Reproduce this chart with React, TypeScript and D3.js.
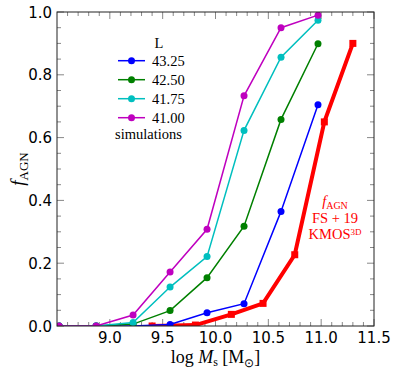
import * as d3 from "d3";
import { useRef, useEffect } from "react";

// simulated AGN fractions per luminosity threshold
const simMass = [8.52, 8.87, 9.22, 9.57, 9.92, 10.27, 10.62, 10.97];
const simLum = ["43.25", "42.50", "41.75", "41.00"];
const simColors = ["#0000ff", "#008000", "#00bfbf", "#bf00bf"];
const simFrac = [
  [0, 0, 0, 0.005, 0.042, 0.071, 0.365, 0.705],
  [0, 0, 0.006, 0.049, 0.154, 0.318, 0.658, 0.899],
  [0, 0, 0.011, 0.124, 0.221, 0.623, 0.856, 0.974],
  [0, 0, 0.035, 0.172, 0.308, 0.733, 0.95, 0.99],
];

// observed (FS+19 KMOS3D)
const obsMass = [9.4, 9.81, 10.15, 10.45, 10.75, 11.03, 11.3];
const obsFrac = [0.0, 0.003, 0.037, 0.072, 0.227, 0.65, 0.9];

const xTicks = [9.0, 9.5, 10.0, 10.5, 11.0, 11.5];
const yTicks = [0.0, 0.2, 0.4, 0.6, 0.8, 1.0];

const App = () => {
  const container = useRef(null);

  useEffect(() => {
    createChart();
  });

  const createChart = () => {
    let node = container.current;
    let dims = { width: 399, height: 374 };
    let m = { l: 57, r: 25, t: 12, b: 48 };
    let w = dims.width - m.l - m.r;
    let h = dims.height - m.t - m.b;

    let svg = d3.select(node).selectAll("svg").data([0]).join("svg")
      .attr("width", dims.width)
      .attr("height", dims.height)
      .style("position", "absolute")
      .style("left", 0)
      .style("top", 0);
    svg.selectAll("*").remove();

    let x = d3.scaleLinear().domain([8.5, 11.5]).range([0, w]);
    let y = d3.scaleLinear().domain([0, 1]).range([h, 0]);

    svg.append("defs").append("clipPath").attr("id", "plotclip")
      .append("rect").attr("width", w).attr("height", h);

    let g = svg.append("g").attr("transform", `translate(${m.l},${m.t})`);

    // ticks (inward, all sides)
    let tickG = g.append("g").attr("stroke", "#888").attr("stroke-width", 1);
    let xMinor = d3.range(8.6, 11.45, 0.1).filter((v) => Math.abs(v * 2 - Math.round(v * 2)) > 0.01);
    let yMinor = d3.range(0.05, 1.0, 0.05).filter((v) => Math.abs(v * 5 - Math.round(v * 5)) > 0.01);
    const xt = (vals, len) => {
      vals.forEach((v) => {
        tickG.append("line").attr("x1", x(v)).attr("x2", x(v)).attr("y1", h).attr("y2", h - len);
        tickG.append("line").attr("x1", x(v)).attr("x2", x(v)).attr("y1", 0).attr("y2", len);
      });
    };
    const yt = (vals, len) => {
      vals.forEach((v) => {
        tickG.append("line").attr("y1", y(v)).attr("y2", y(v)).attr("x1", 0).attr("x2", len);
        tickG.append("line").attr("y1", y(v)).attr("y2", y(v)).attr("x1", w).attr("x2", w - len);
      });
    };
    xt(xMinor, 4);
    xt(xTicks, 7);
    yt(yMinor, 4);
    yt(yTicks, 7);

    // tick labels
    g.selectAll(".xlab").data(xTicks).join("text")
      .attr("class", "xlab")
      .attr("x", (d) => x(d))
      .attr("y", h + 17)
      .attr("text-anchor", "middle")
      .style("font-family", "DejaVu Sans")
      .style("font-size", "15px")
      .text((d) => d3.format(".1f")(d));
    g.selectAll(".ylab").data(yTicks).join("text")
      .attr("class", "ylab")
      .attr("x", -5)
      .attr("y", (d) => y(d) + 5.5)
      .attr("text-anchor", "end")
      .style("font-family", "DejaVu Sans")
      .style("font-size", "15px")
      .text((d) => d3.format(".1f")(d));

    // data
    let plot = g.append("g").attr("clip-path", "url(#plotclip)");
    let line = d3.line().x((d) => x(d[0])).y((d) => y(d[1]));

    let obs = obsMass.map((v, i) => [v, obsFrac[i]]);
    plot.append("path").datum(obs).attr("d", line)
      .attr("fill", "none").attr("stroke", "#ff0000").attr("stroke-width", 4);
    plot.selectAll(".obs-pt").data(obs).join("rect")
      .attr("class", "obs-pt")
      .attr("x", (d) => x(d[0]) - 3.5).attr("y", (d) => y(d[1]) - 3.5)
      .attr("width", 7).attr("height", 7).attr("fill", "#ff0000");

    simFrac.forEach((series, si) => {
      let pts = simMass.map((v, i) => [v, series[i]]);
      plot.append("path").datum(pts).attr("d", line)
        .attr("fill", "none").attr("stroke", simColors[si]).attr("stroke-width", 1.5);
      plot.selectAll(".sim-pt-" + si).data(pts).join("circle")
        .attr("class", "sim-pt-" + si)
        .attr("cx", (d) => x(d[0])).attr("cy", (d) => y(d[1]))
        .attr("r", 3.5).attr("fill", simColors[si]);
    });

    // frame
    g.append("rect").attr("width", w).attr("height", h)
      .attr("fill", "none").attr("stroke", "#222").attr("stroke-width", 1);

    // legend
    let serif = "Liberation Serif";
    let lg = svg.append("g").style("font-family", serif).style("font-size", "14.5px");
    lg.append("text").attr("x", 159).attr("y", 48).attr("text-anchor", "middle").text("L");
    simLum.forEach((lab, i) => {
      let ly = 60.7 + i * 19;
      lg.append("line").attr("x1", 118).attr("x2", 145).attr("y1", ly).attr("y2", ly)
        .attr("stroke", simColors[i]).attr("stroke-width", 1.5);
      lg.append("circle").attr("cx", 131.5).attr("cy", ly).attr("r", 3.5).attr("fill", simColors[i]);
      lg.append("text").attr("x", 152).attr("y", ly + 4.8).text(lab);
    });
    lg.append("text").attr("x", 148.5).attr("y", 139).attr("text-anchor", "middle").text("simulations");

    // observation label
    let rl = svg.append("g").style("font-family", serif).style("font-size", "14.5px")
      .attr("fill", "#ff0000").attr("text-anchor", "middle");
    let t1 = rl.append("text").attr("x", 335).attr("y", 206);
    t1.append("tspan").style("font-style", "italic").text("f");
    t1.append("tspan").attr("dy", 2.5).style("font-size", "10px").text("AGN");
    rl.append("text").attr("x", 335).attr("y", 223).text("FS + 19");
    let t3 = rl.append("text").attr("x", 335).attr("y", 239);
    t3.append("tspan").text("KMOS");
    t3.append("tspan").attr("dy", -4).style("font-size", "9px").text("3D");

    // axis labels
    let xl = svg.append("text").attr("x", m.l + w / 2).attr("y", 363)
      .attr("text-anchor", "middle").style("font-family", serif).style("font-size", "18px");
    xl.append("tspan").text("log ");
    xl.append("tspan").style("font-style", "italic").text("M");
    xl.append("tspan").attr("dy", 3).style("font-size", "12px").text("s");
    xl.append("tspan").attr("dy", -3).text(" [M");
    xl.append("tspan").attr("dy", 4).style("font-size", "12px").text("\u2299");
    xl.append("tspan").attr("dy", -4).text("]");

    let yl = svg.append("text")
      .attr("transform", `translate(24,${m.t + h / 2}) rotate(-90)`)
      .attr("text-anchor", "middle").style("font-family", serif).style("font-size", "19px");
    yl.append("tspan").style("font-style", "italic").text("f");
    yl.append("tspan").attr("dy", 4).style("font-size", "13px").text("AGN");

    return;
  };

  return <div ref={container}></div>;
};

export default App;
